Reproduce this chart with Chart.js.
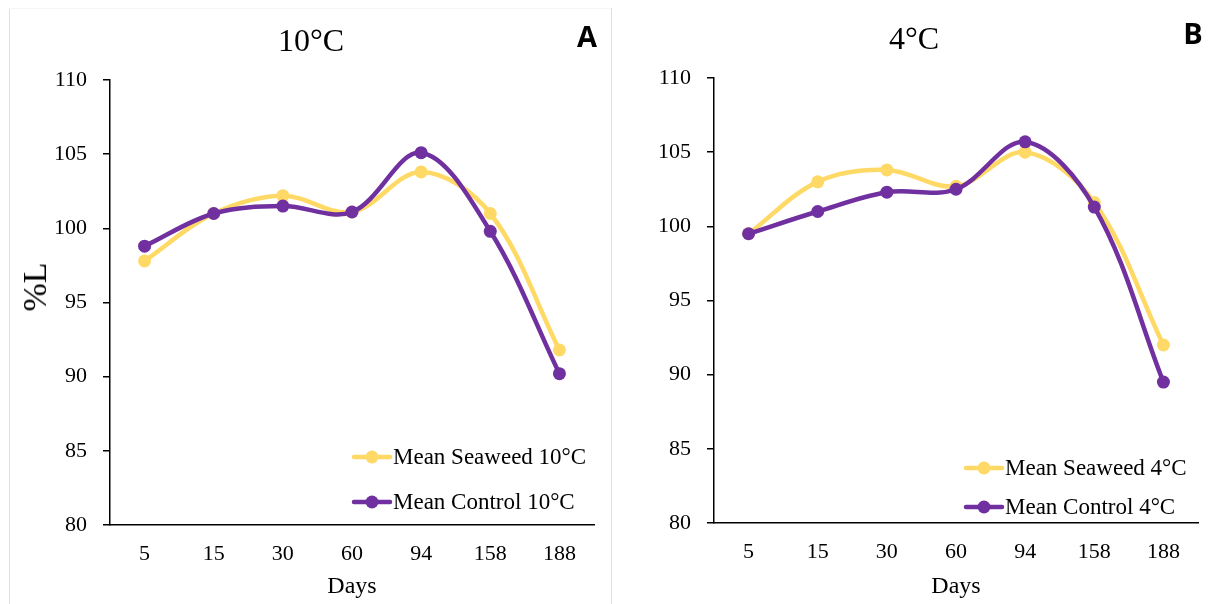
<!DOCTYPE html>
<html>
<head>
<meta charset="utf-8">
<script src="https://cdn.jsdelivr.net/npm/chart.js@4.4.0/dist/chart.umd.min.js"></script>
<style>
  body { margin: 0; background: #fff; width: 1208px; height: 604px; position: relative; overflow: hidden; font-family: "Liberation Serif", serif; }
  canvas { position: absolute; top: 0; }
  #chartA { left: 0; }
  #chartB { left: 605px; }
  .txt { position: absolute; transform: translate(-50%, -50%); white-space: nowrap; color: #000; }
  .title { font-size: 32px; }
  .panel { font-family: "Open Sans", sans-serif; font-weight: 700; font-size: 29px; }
  .ylab { font-size: 34px; transform: translate(-50%, -50%) rotate(-90deg); }
  .vline { position: absolute; top: 8px; bottom: 0; width: 1px; background: #e0e0e0; }
</style>
</head>
<body>
<div class="vline" style="left:9px"></div>
<div class="vline" style="left:611px"></div>
<div style="position:absolute;left:9px;top:8px;width:602px;height:1px;background:#f6f6f6"></div>

<canvas id="chartA" width="605" height="604"></canvas>
<canvas id="chartB" width="603" height="604"></canvas>

<div class="txt title" style="left:311px;top:40px">10°C</div>
<div class="txt title" style="left:914px;top:38px">4°C</div>
<div class="txt panel" style="left:587px;top:35px">A</div>
<div class="txt panel" style="left:1193px;top:32px">B</div>
<div class="txt ylab" style="left:35px;top:287px">%L</div>

<script>
// sampling days (x categories)
var days = ['5', '15', '30', '60', '94', '158', '188'];

// mean %L at 10°C
var seaweed10 = [97.8, 101.0, 102.2, 101.1, 103.8, 101.0, 91.8];
var control10 = [98.8, 101.0, 101.5, 101.1, 105.1, 99.8, 90.2];

// mean %L at 4°C
var seaweed4 = [99.5, 103.0, 103.8, 102.7, 105.0, 101.6, 92.0];
var control4 = [99.5, 101.0, 102.3, 102.5, 105.7, 101.3, 89.5];

// y axis range
var yMin = 80, yMax = 110, yStep = 5;

var YELLOW = '#FFD966';
var PURPLE = '#7030A0';

// legend drawn inside the plot, bottom right
var inlineLegend = {
    id: 'inlineLegend',
    afterDatasetsDraw: function(chart, args, opts) {
        var ctx = chart.ctx;
        ctx.save();
        chart.data.datasets.forEach(function(ds, i) {
            var y = opts.y + i * opts.gap;
            ctx.strokeStyle = ds.borderColor;
            ctx.lineWidth = 4.5;
            ctx.lineCap = 'round';
            ctx.beginPath();
            ctx.moveTo(opts.x, y);
            ctx.lineTo(opts.x + 36, y);
            ctx.stroke();
            ctx.fillStyle = ds.borderColor;
            ctx.beginPath();
            ctx.arc(opts.x + 18, y, 6.5, 0, Math.PI * 2);
            ctx.fill();
            ctx.fillStyle = '#000';
            ctx.font = '23px "Liberation Serif"';
            ctx.textBaseline = 'middle';
            ctx.textAlign = 'left';
            ctx.fillText(ds.label, opts.x + 39, y + 1);
        });
        ctx.restore();
    }
};

function series(label, values, color, order) {
    return {
        label: label,
        data: values,
        borderColor: color,
        backgroundColor: color,
        borderWidth: 4.5,
        pointRadius: 6.5,
        pointBorderWidth: 0,
        pointBackgroundColor: color,
        tension: 0.35,
        fill: false,
        order: order
    };
}

function makeChart(id, seaweed, control, temp, box) {
    var ctx = document.getElementById(id);
    return new Chart(ctx, {
        type: 'line',
        data: {
            labels: days,
            datasets: [
                series('Mean Seaweed ' + temp, seaweed, YELLOW, 1),
                series('Mean Control ' + temp, control, PURPLE, 0)
            ]
        },
        options: {
            responsive: false,
            animation: false,
            layout: { padding: { top: box.top, right: box.right, left: 0, bottom: 0 } },
            plugins: {
                legend: { display: false },
                tooltip: { enabled: false },
                inlineLegend: { x: box.legendX, y: box.legendY, gap: box.legendGap }
            },
            scales: {
                x: {
                    offset: true,
                    grid: { display: false, drawTicks: false },
                    border: { display: true, color: '#000', width: 1.5 },
                    ticks: {
                        color: '#000',
                        font: { family: 'Liberation Serif', size: 22 },
                        padding: 16,
                        maxRotation: 0,
                        autoSkip: false
                    },
                    title: {
                        display: true,
                        text: 'Days',
                        color: '#000',
                        font: { family: 'Liberation Serif', size: 24 },
                        padding: { top: 0, bottom: 3 }
                    },
                    afterFit: function(scale) { scale.height = box.xHeight; }
                },
                y: {
                    min: yMin,
                    max: yMax,
                    grid: { drawOnChartArea: false, drawTicks: true, tickLength: 7, color: '#000', lineWidth: 1.5 },
                    border: { display: true, color: '#000', width: 1.5 },
                    ticks: {
                        stepSize: yStep,
                        color: '#000',
                        font: { family: 'Liberation Serif', size: 22 },
                        padding: 16
                    },
                    afterFit: function(scale) { scale.width = box.yWidth; }
                }
            }
        },
        plugins: [inlineLegend]
    });
}

makeChart('chartA', seaweed10, control10, '10°C',
    { top: 80, right: 11, yWidth: 110, xHeight: 79, legendX: 354, legendY: 457, legendGap: 45 });
makeChart('chartB', seaweed4, control4, '4°C',
    { top: 78, right: 10, yWidth: 109, xHeight: 81, legendX: 361, legendY: 468, legendGap: 39 });
</script>
</body>
</html>
